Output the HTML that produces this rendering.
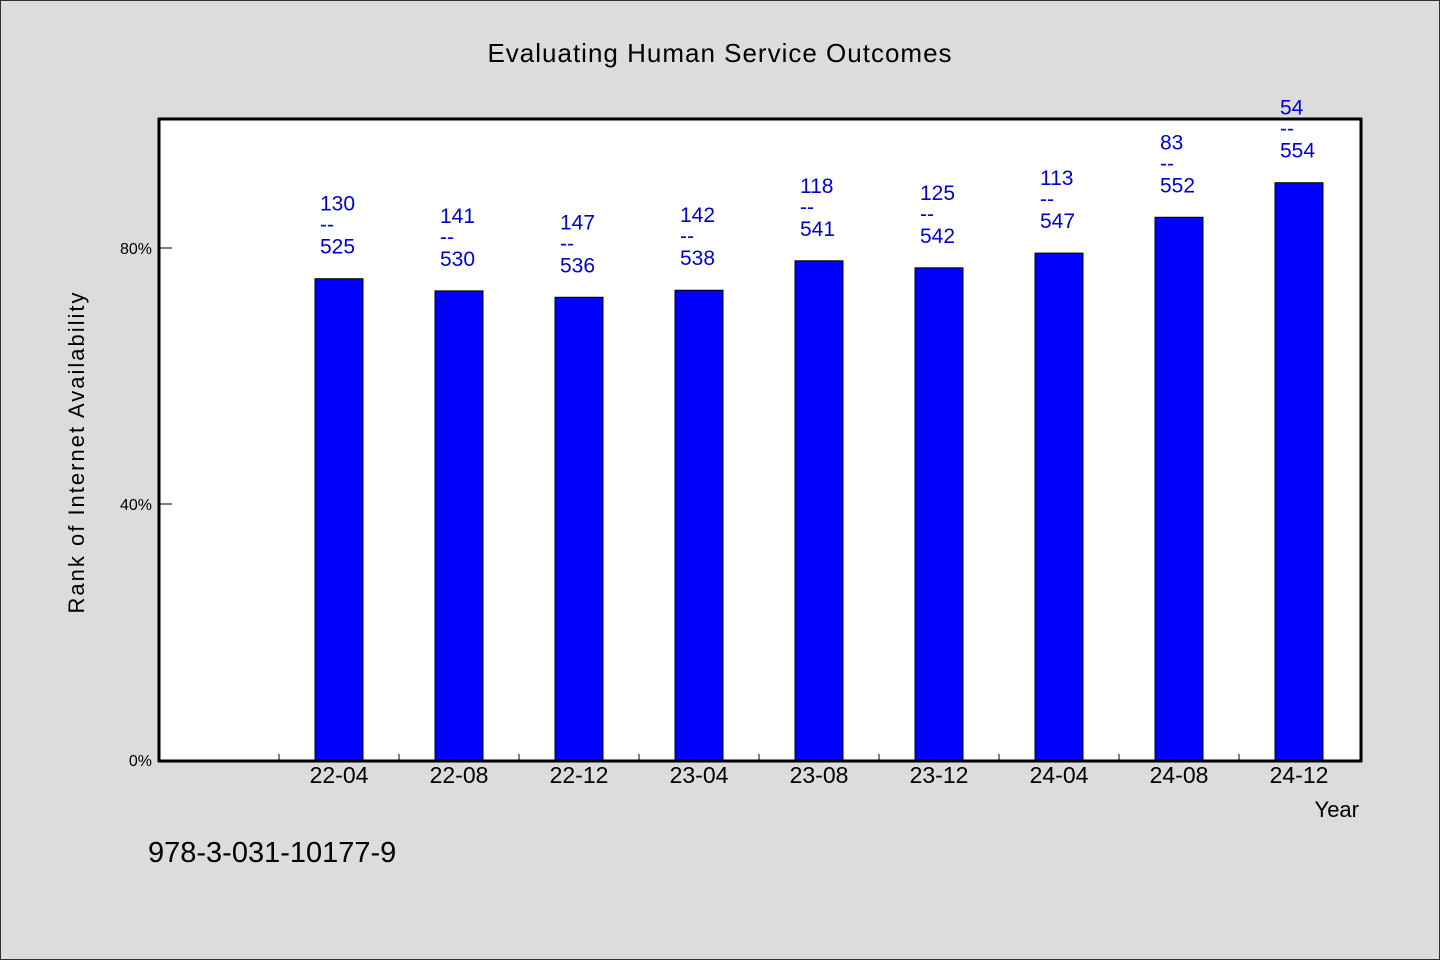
<!DOCTYPE html>
<html><head><meta charset="utf-8"><style>
html,body{margin:0;padding:0;background:#dcdcdc;}
svg{display:block;}
text{font-family:"WenQuanYi Zen Hei","Liberation Sans",sans-serif;}
</style></head><body>
<svg id="chart" width="1440" height="960">
<rect x="0.5" y="0.5" width="1439" height="959" fill="#dcdcdc" stroke="#333"/>
<text x="720" y="62" text-anchor="middle" font-size="26" fill="#000" style="letter-spacing:1px">Evaluating Human Service Outcomes</text>
<rect x="159" y="119" width="1202" height="642" fill="#fff"/>
<g id="bars"></g>
<g id="axes"></g>
<rect x="159" y="119" width="1202" height="642" fill="none" stroke="#000" stroke-width="3"/>
<text transform="translate(84,452) rotate(-90)" text-anchor="middle" font-size="22" style="letter-spacing:2px">Rank of Internet Availability</text>
<text x="1359" y="817" text-anchor="end" font-size="22">Year</text>
<text x="148" y="862" font-size="29">978-3-031-10177-9</text>
</svg>
<script>
const categories = ["22-04","22-08","22-12","23-04","23-08","23-12","24-04","24-08","24-12"];
const values = [75.2,73.3,72.3,73.4,78.0,76.9,79.2,84.8,90.2];
const ranks = [130,141,147,142,118,125,113,83,54];
const totals = [525,530,536,538,541,542,547,552,554];
const yTicks = [0,40,80];
const NS="http://www.w3.org/2000/svg";
const x0=159, slot=120, y0=760, pxPerPct=6.4;
const xc = i => x0 + slot*(i+1) + slot/2;
const yv = v => y0 - v*pxPerPct;
const bars=document.getElementById('bars'), axes=document.getElementById('axes');
function mk(tag, attrs, parent){const e=document.createElementNS(NS,tag);for(const k in attrs)e.setAttribute(k,attrs[k]);parent.appendChild(e);return e;}
categories.forEach((c,i)=>{
  const cx=xc(i), top=yv(values[i]);
  const r=mk('rect',{x:cx-24,y:top,width:48,height:y0-top,fill:'#0000ff',stroke:'#000','stroke-width':1},bars);
  
  
  const t1=mk('text',{x:cx-19,y:top-68,'font-size':21,fill:'#0000cc'},bars);
  t1.textContent=ranks[i];
  
  
  const t2=mk('text',{x:cx-19,y:top-47,'font-size':21,fill:'#0000cc'},bars);
  t2.textContent='--';
  
  
  const t3=mk('text',{x:cx-19,y:top-25,'font-size':21,fill:'#0000cc'},bars);
  t3.textContent=totals[i];
  
  
  const xl=mk('text',{x:cx,y:783,'font-size':23,'text-anchor':'middle'},axes);
  xl.textContent=c;
  
  
  const tk=mk('line',{x1:cx-60,x2:cx-60,y1:754,y2:760,stroke:'#000'},axes);
  
  
});
yTicks.forEach(v=>{
  const y=yv(v);
  const l=mk('line',{x1:159,x2:172,y1:y,y2:y,stroke:'#000'},axes);
  
  
  const t=mk('text',{x:152,y:y+6,'font-size':16,'text-anchor':'end'},axes);
  t.textContent=v+'%';
  
  
});
</script>
</body></html>
